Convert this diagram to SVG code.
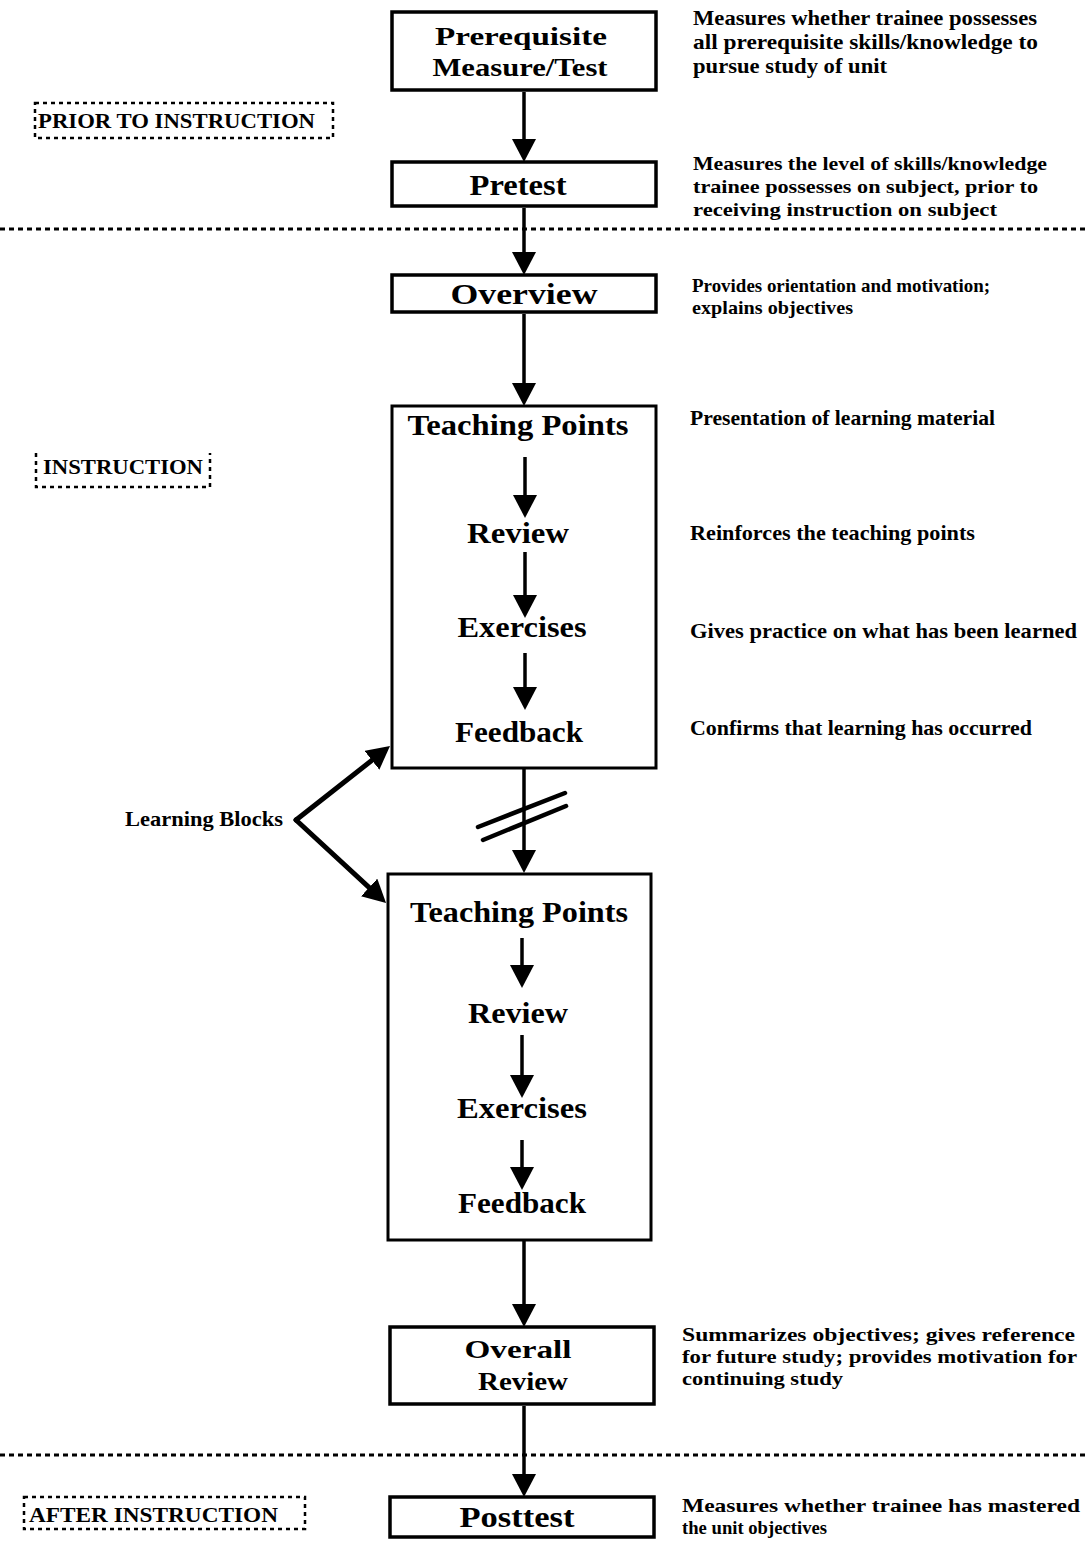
<svg xmlns="http://www.w3.org/2000/svg" width="1086" height="1543" viewBox="0 0 1086 1543">
<defs>
  <marker id="ah" markerUnits="userSpaceOnUse" viewBox="0 0 23 24" markerWidth="23" markerHeight="24" refX="16" refY="12" orient="auto">
    <path d="M0,0 L23,12 L0,24 z" fill="#000"/>
  </marker>
</defs>
<style>
  .box{fill:#fff;stroke:#000;stroke-width:3.5}
  .blk{fill:none;stroke:#000;stroke-width:3}
  .lbl{font-family:"Liberation Serif","Times New Roman",serif;font-weight:bold;font-size:30px;text-anchor:middle;fill:#000}
  .lbl.two{font-size:26px}
  .desc{font-family:"Liberation Serif","Times New Roman",serif;font-weight:bold;font-size:22px;fill:#000}
  .desc.sm{font-size:19px}
  .sec{font-family:"Liberation Serif","Times New Roman",serif;font-weight:bold;font-size:22px;fill:#000}
  .secbox{fill:none;stroke:#000;stroke-width:2.5;stroke-dasharray:4 4}
  .divider{fill:none;stroke:#000;stroke-width:3;stroke-dasharray:5 4}
  .conn{fill:none;stroke:#000;stroke-width:3.5;marker-end:url(#ah)}
  .thick{fill:none;stroke:#000;stroke-width:5;stroke-linecap:round;marker-end:url(#ah)}
  .brk{fill:none;stroke:#000;stroke-width:4.5;stroke-linecap:round}
</style>
<rect x="0" y="0" width="1086" height="1543" fill="#fff"/>

<g id="dividers">
  <line class="divider" x1="0" y1="229" x2="1086" y2="229"/>
  <line class="divider" x1="0" y1="1455" x2="1086" y2="1455"/>
</g>

<g id="section-prior">
  <rect class="secbox" x="35" y="103" width="298" height="35"/>
  <text class="sec" x="38" y="128" textLength="277" lengthAdjust="spacingAndGlyphs">PRIOR TO INSTRUCTION</text>
</g>
<g id="section-instruction">
  <path class="secbox" d="M36,453 V487 H210 V453"/>
  <text class="sec" x="43" y="474" textLength="160" lengthAdjust="spacingAndGlyphs">INSTRUCTION</text>
</g>
<g id="section-after">
  <rect class="secbox" x="24" y="1497" width="281" height="32"/>
  <text class="sec" x="29" y="1522" textLength="249" lengthAdjust="spacingAndGlyphs">AFTER INSTRUCTION</text>
</g>

<g id="node-prerequisite">
  <rect class="box" x="392" y="12" width="264" height="78" stroke-width="4"/>
  <text class="lbl two" x="521" y="45" textLength="172" lengthAdjust="spacingAndGlyphs">Prerequisite</text>
  <text class="lbl two" x="520" y="76" textLength="175" lengthAdjust="spacingAndGlyphs">Measure/Test</text>
</g>
<g id="node-pretest">
  <rect class="box" x="392" y="162" width="264" height="44"/>
  <text class="lbl" x="518" y="195" textLength="97" lengthAdjust="spacingAndGlyphs">Pretest</text>
</g>
<g id="node-overview">
  <rect class="box" x="392" y="275" width="264" height="37"/>
  <text class="lbl" x="524" y="304" textLength="147" lengthAdjust="spacingAndGlyphs">Overview</text>
</g>
<g id="node-block1">
  <rect class="blk" x="392" y="406" width="264" height="362"/>
  <text class="lbl" x="518" y="435" textLength="221" lengthAdjust="spacingAndGlyphs">Teaching  Points</text>
  <text class="lbl" x="518" y="543" textLength="102" lengthAdjust="spacingAndGlyphs">Review</text>
  <text class="lbl" x="522" y="637" textLength="129" lengthAdjust="spacingAndGlyphs">Exercises</text>
  <text class="lbl" x="519" y="742" textLength="128" lengthAdjust="spacingAndGlyphs">Feedback</text>
</g>
<g id="node-block2">
  <rect class="blk" x="388" y="874" width="263" height="366"/>
  <text class="lbl" x="519" y="922" textLength="218" lengthAdjust="spacingAndGlyphs">Teaching  Points</text>
  <text class="lbl" x="518" y="1023" textLength="100" lengthAdjust="spacingAndGlyphs">Review</text>
  <text class="lbl" x="522" y="1118" textLength="130" lengthAdjust="spacingAndGlyphs">Exercises</text>
  <text class="lbl" x="522" y="1213" textLength="128" lengthAdjust="spacingAndGlyphs">Feedback</text>
</g>
<g id="node-overall-review">
  <rect class="box" x="390" y="1327" width="264" height="77" stroke-width="4"/>
  <text class="lbl two" x="518" y="1358" textLength="107" lengthAdjust="spacingAndGlyphs">Overall</text>
  <text class="lbl two" x="523" y="1390" textLength="90" lengthAdjust="spacingAndGlyphs">Review</text>
</g>
<g id="node-posttest">
  <rect class="box" x="390" y="1497" width="264" height="40" stroke-width="4"/>
  <text class="lbl" x="517" y="1527" textLength="115" lengthAdjust="spacingAndGlyphs">Posttest</text>
</g>

<g id="connectors">
  <line class="conn" x1="524" y1="92" x2="524" y2="155"/>
  <line class="conn" x1="524" y1="208" x2="524" y2="268"/>
  <line class="conn" x1="524" y1="314" x2="524" y2="399"/>
  <line class="conn" x1="525" y1="457" x2="525" y2="511"/>
  <line class="conn" x1="525" y1="552" x2="525" y2="611"/>
  <line class="conn" x1="525" y1="653" x2="525" y2="703"/>
  <line class="conn" x1="524" y1="769" x2="524" y2="866"/>
  <line class="brk" x1="478" y1="827" x2="565" y2="793"/>
  <line class="brk" x1="483" y1="840" x2="566" y2="806"/>
  <line class="conn" x1="522" y1="938" x2="522" y2="981"/>
  <line class="conn" x1="522" y1="1035" x2="522" y2="1091"/>
  <line class="conn" x1="522" y1="1140" x2="522" y2="1183"/>
  <line class="conn" x1="524" y1="1241" x2="524" y2="1320"/>
  <line class="conn" x1="524" y1="1406" x2="524" y2="1490"/>
  <path class="thick" d="M296,820 L384.5,750.4"/>
  <path class="thick" d="M296,820 L380.9,898.3"/>
</g>

<g id="label-learning-blocks">
  <text class="desc" x="125" y="826" textLength="158" lengthAdjust="spacingAndGlyphs">Learning Blocks</text>
</g>

<g id="descriptions">
  <text class="desc" x="693" y="25" textLength="344" lengthAdjust="spacingAndGlyphs">Measures whether trainee possesses</text>
  <text class="desc" x="693" y="49" textLength="345" lengthAdjust="spacingAndGlyphs">all prerequisite skills/knowledge to</text>
  <text class="desc" x="693" y="73" textLength="194" lengthAdjust="spacingAndGlyphs">pursue study of unit</text>

  <text class="desc sm" x="693" y="170" textLength="354" lengthAdjust="spacingAndGlyphs">Measures the level of skills/knowledge</text>
  <text class="desc sm" x="693" y="193" textLength="345" lengthAdjust="spacingAndGlyphs">trainee possesses on subject, prior to</text>
  <text class="desc sm" x="693" y="216" textLength="304" lengthAdjust="spacingAndGlyphs">receiving instruction on subject</text>

  <text class="desc sm" x="692" y="292" textLength="298" lengthAdjust="spacingAndGlyphs">Provides orientation and motivation;</text>
  <text class="desc sm" x="692" y="314" textLength="161" lengthAdjust="spacingAndGlyphs">explains objectives</text>

  <text class="desc" x="690" y="425" textLength="305" lengthAdjust="spacingAndGlyphs">Presentation of learning material</text>
  <text class="desc" x="690" y="540" textLength="285" lengthAdjust="spacingAndGlyphs">Reinforces the teaching points</text>
  <text class="desc" x="690" y="638" textLength="387" lengthAdjust="spacingAndGlyphs">Gives practice on what has been learned</text>
  <text class="desc" x="690" y="735" textLength="342" lengthAdjust="spacingAndGlyphs">Confirms that learning has occurred</text>

  <text class="desc sm" x="682" y="1341" textLength="393" lengthAdjust="spacingAndGlyphs">Summarizes objectives; gives reference</text>
  <text class="desc sm" x="682" y="1363" textLength="395" lengthAdjust="spacingAndGlyphs">for future study; provides motivation for</text>
  <text class="desc sm" x="682" y="1385" textLength="161" lengthAdjust="spacingAndGlyphs">continuing study</text>

  <text class="desc sm" x="682" y="1512" textLength="398" lengthAdjust="spacingAndGlyphs">Measures whether trainee has mastered</text>
  <text class="desc sm" x="682" y="1534" textLength="145" lengthAdjust="spacingAndGlyphs">the unit objectives</text>
</g>
</svg>
